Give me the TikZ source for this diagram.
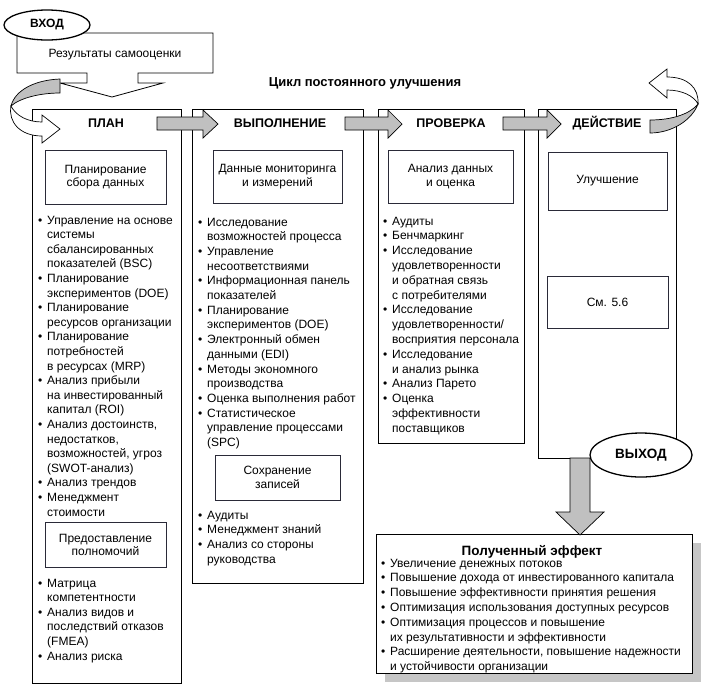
\documentclass[tikz,border=0pt]{standalone}
\usepackage{fontspec}
\setmainfont{Liberation Sans}
\usetikzlibrary{shapes.geometric}
\definecolor{arrgray}{HTML}{C0C0C0}
\definecolor{shgray}{HTML}{C6C6C6}
\definecolor{boxline}{HTML}{2A2A38}
\def\mkb{\makebox[9pt][l]{\textbullet}}
\def\mkn{\hspace*{9pt}}
\newcommand\mylist[5]{\foreach \kk/\txt [count=\i] in {#5} {\node[lst] (#1\i) at (#2,{#3+(\i-1)*#4}) {\csname mk\kk\endcsname\txt};}}
\begin{document}
\begin{tikzpicture}[x=1pt,y=-1pt,
 lst/.style={anchor=base west, inner sep=0pt, font=\fontsize{12}{14}\selectfont},
 colbox/.style={draw, line width=0.8pt, fill=white, anchor=north west, inner sep=0pt},
 sbox/.style={draw=boxline, line width=1pt, fill=white, align=center, inner sep=2pt, font=\fontsize{12}{13.5}\selectfont},
 hdr/.style={font=\fontsize{12.5}{14}\selectfont\bfseries, inner sep=0pt},
 garrow/.style={draw, line width=0.7pt, fill=arrgray, line join=miter},
 warrow/.style={draw, line width=0.7pt, fill=white, line join=miter},
 oval/.style={ellipse, draw, line width=1.3pt, fill=white, inner sep=0pt, font=\fontsize{12}{14}\selectfont\bfseries},
 ]
\fill[white] (0,0) rectangle (708,694);
\useasboundingbox (0,0) rectangle (708,694);

% input box with arrow
\draw[line width=0.8pt, fill=white, line join=miter] (17,33) -- (213,33) -- (213,73) -- (138,73) -- (138,83) -- (163,83) -- (112,97) -- (60,83) -- (87,83) -- (87,73) -- (17,73) -- cycle;
\node[inner sep=0pt, font=\fontsize{12}{14}\selectfont] (res) at (115,55) {Результаты самооценки};
\node[oval, minimum width=86pt, minimum height=30pt] (vhod) at (47,25) {ВХОД};

% title
\node[hdr, font=\fontsize{13}{15}\selectfont\bfseries] (title) at (365,83) {Цикл постоянного улучшения};

% columns
\node[colbox, minimum width=149pt, minimum height=574pt] (c1) at (32,109) {};
\node[colbox, minimum width=171pt, minimum height=474pt] (c2) at (192,109) {};
\node[colbox, minimum width=146pt, minimum height=334pt] (c3) at (378,109) {};
\node[colbox, minimum width=138pt, minimum height=349pt] (c4) at (538,109) {};

% headers
\node[hdr] (h1) at (106,123) {ПЛАН};
\node[hdr] (h2) at (280,123) {ВЫПОЛНЕНИЕ};
\node[hdr] (h3) at (451,123) {ПРОВЕРКА};
\node[hdr] (h4) at (607,123) {ДЕЙСТВИЕ};

% sub boxes
\node[sbox, minimum width=121pt, minimum height=54pt] (p1) at (105.5,177) {Планирование\\сбора данных};
\node[sbox, minimum width=121pt, minimum height=45pt] (p2) at (105.5,545) {Предоставление\\полномочий};
\node[sbox, minimum width=129pt, minimum height=53pt] (v1) at (277.5,176.5) {Данные мониторинга\\и измерений};
\node[sbox, minimum width=125pt, minimum height=45pt] (v2) at (277.5,477.5) {Сохранение\\записей};
\node[sbox, minimum width=125pt, minimum height=53pt] (k1) at (450.5,176.5) {Анализ данных\\и оценка};
\node[sbox, minimum width=119pt, minimum height=58pt] (d1) at (607.5,181) {Улучшение};
\node[sbox, minimum width=121pt, minimum height=52pt] (d2) at (607.5,302) {См. 5.6};

% lists
\mylist{pa}{38}{224}{14.6}{b/Управление на основе, n/системы, n/сбалансированных, n/показателей (BSC), b/Планирование, n/экспериментов (DOE), b/Планирование, n/ресурсов организации, b/Планирование, n/потребностей, n/в ресурсах (MRP), b/Анализ прибыли, n/на инвестированный, n/капитал (ROI), b/{Анализ достоинств,}, n/{недостатков,}, n/{возможностей, угроз}, n/(SWOT-анализ), b/Анализ трендов, b/Менеджмент, n/стоимости}
\mylist{pb}{38}{587}{14.6}{b/Матрица, n/компетентности, b/Анализ видов и, n/последствий отказов, n/(FMEA), b/Анализ риска}
\mylist{va}{198}{226}{14.7}{b/Исследование, n/возможностей процесса, b/Управление, n/несоответствиями, b/Информационная панель, n/показателей, b/Планирование, n/экспериментов (DOE), b/Электронный обмен, n/данными (EDI), b/Методы экономного, n/производства, b/Оценка выполнения работ, b/Статистическое, n/управление процессами, n/(SPC)}
\mylist{vb}{198}{519}{14.7}{b/Аудиты, b/Менеджмент знаний, b/Анализ со стороны, n/руководства}
\mylist{ka}{383}{225}{14.8}{b/Аудиты, b/Бенчмаркинг, b/Исследование, n/удовлетворенности, n/и обратная связь, n/с потребителями, b/Исследование, n/{удовлетворенности/}, n/восприятия персонала, b/Исследование, n/и анализ рынка, b/Анализ Парето, b/Оценка, n/эффективности, n/поставщиков}

% arrows between columns
\foreach \a/\b/\c in {157/203/218, 345/388/402, 503/547/561}
  \draw[garrow] (\a,117) -- (\b,117) -- (\b,110) -- (\c,124) -- (\b,138) -- (\b,130) -- (\a,130) -- cycle;

% left curved arrow
\draw[garrow] (60,79) .. controls (35,80) and (15,90) .. (11,106) .. controls (20,98) and (40,93) .. (60,93) -- cycle;
\draw[warrow] (11,106) .. controls (16,116) and (28,122) .. (42,122) -- (42,115) -- (60,129) -- (42,143) -- (42,136) .. controls (20,136) and (8,122) .. (11,106) -- cycle;

% right curved arrow
\draw[warrow] (698,104) .. controls (699,88) and (688,77) .. (667,77) -- (667,69) -- (649,83) -- (667,98) -- (667,90) .. controls (682,90) and (694,96) .. (698,104) -- cycle;
\draw[garrow] (650,120) .. controls (672,120) and (690,114) .. (698,104) .. controls (692,120) and (672,133) .. (650,133) -- cycle;

% effect box
\fill[shgray] (385,543) rectangle (701,682);
\node[draw, line width=1pt, fill=white, anchor=north west, minimum width=316pt, minimum height=139pt, inner sep=0pt] (eff) at (376,534) {};
\node[inner sep=0pt, font=\fontsize{13.5}{15}\selectfont\bfseries] (effh) at (532,552) {Полученный эффект};
\mylist{ea}{381}{567}{14.8}{b/Увеличение денежных потоков, b/Повышение дохода от инвестированного капитала, b/Повышение эффективности принятия решения, b/Оптимизация использования доступных ресурсов, b/Оптимизация процессов и повышение, n/их результативности и эффективности, b/{Расширение деятельности, повышение надежности}, n/и устойчивости организации}

% output arrow and oval
\draw[garrow] (570,458) -- (590,458) -- (590,512) -- (604,512) -- (580,535) -- (556,512) -- (570,512) -- cycle;
\node[oval, minimum width=102pt, minimum height=44pt, font=\fontsize{13.5}{15}\selectfont\bfseries] (vyhod) at (641,455) {ВЫХОД};
\end{tikzpicture}
\end{document}
